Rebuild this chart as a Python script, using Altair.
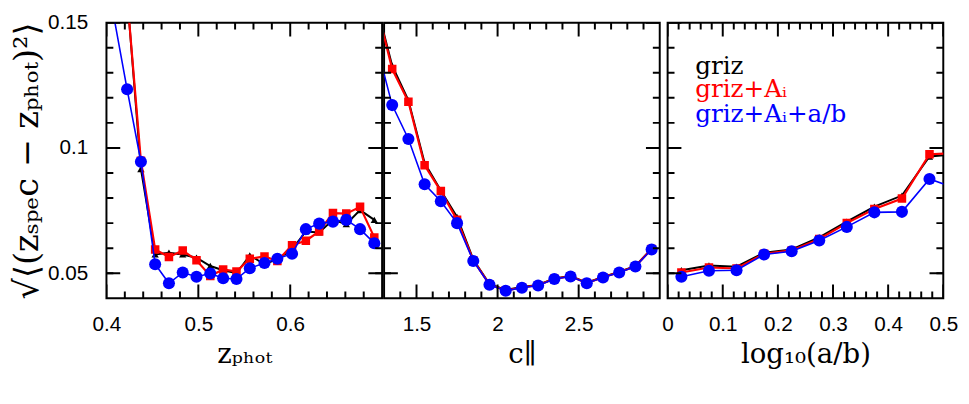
import altair as alt
import pandas as pd

# ---------------- data ----------------
# Panel 1: z_phot
zphot_x = [0.4075, 0.4225, 0.4375, 0.453, 0.468, 0.483, 0.498, 0.513, 0.527, 0.5415,
           0.556, 0.572, 0.586, 0.602, 0.617, 0.6315, 0.6465, 0.661, 0.676, 0.6915]
zphot_griz = [None, 0.161, 0.0916, 0.0575, 0.0582, 0.0575, 0.0562, 0.0529, 0.0512, 0.0500,
              0.0571, 0.0536, 0.0556, 0.0595, 0.0667, 0.0663, 0.0713, 0.0696, 0.0752, 0.0713]
zphot_grizA = [None, 0.1605, 0.0949, 0.0595, 0.0565, 0.0591, 0.0552, 0.0489, 0.0515, 0.0507,
               0.0558, 0.0567, 0.0549, 0.0612, 0.0630, 0.0667, 0.0740, 0.0738, 0.0765, 0.0643]
zphot_grizAab = [0.1535, 0.1234, 0.0945, 0.0536, 0.0460, 0.0503, 0.0486, 0.0499, 0.0480, 0.0477,
                 0.0520, 0.0541, 0.0558, 0.0578, 0.0676, 0.0698, 0.0706, 0.0713, 0.0676, 0.0620]

# Panel 2: c_parallel
c_x = [1.25, 1.35, 1.45, 1.55, 1.65, 1.75, 1.85, 1.95, 2.05, 2.15,
       2.25, 2.35, 2.45, 2.55, 2.65, 2.75, 2.85, 2.95]
c_griz = [0.158, 0.1328, 0.1190, 0.0940, 0.0830, 0.0725, 0.0555, 0.0457, 0.0433, 0.0445,
          0.0453, 0.0479, 0.0489, 0.0462, 0.0485, 0.0505, 0.0529, 0.0598]
c_grizA = [0.1575, 0.1315, 0.1184, 0.0931, 0.0828, 0.0713, 0.0552, 0.0455, 0.0431, 0.0443,
           0.0452, 0.0478, 0.0488, 0.0461, 0.0484, 0.0504, 0.0528, 0.0597]
c_grizAab = [0.142, 0.1171, 0.1036, 0.0855, 0.0787, 0.0700, 0.0549, 0.0454, 0.0430, 0.0442,
             0.0451, 0.0477, 0.0487, 0.0460, 0.0483, 0.0503, 0.0527, 0.0595]

# Panel 3: log10(a/b)
ab_x = [0.025, 0.075, 0.125, 0.175, 0.225, 0.275, 0.325, 0.375, 0.425, 0.475, 0.525]
ab_griz = [0.0512, 0.0531, 0.0526, 0.0582, 0.0595, 0.0643, 0.0706, 0.0766, 0.0810, 0.0966, 0.0975]
ab_grizA = [0.0503, 0.0523, 0.0519, 0.0578, 0.0591, 0.0637, 0.0700, 0.0756, 0.0798, 0.0975, 0.0980]
ab_grizAab = [0.0486, 0.0510, 0.0512, 0.0575, 0.0588, 0.0631, 0.0685, 0.0743, 0.0745, 0.0876, 0.0837]

series_names = ["griz", "griz+Aᵢ", "griz+Aᵢ+a/b"]

# tick positions
y_major = [0.05, 0.1, 0.15]
y_minor = [0.05, 0.06, 0.07, 0.08, 0.09, 0.10, 0.11, 0.12, 0.13, 0.14]
zphot_major = [0.4, 0.5, 0.6]
zphot_minor = [0.42, 0.44, 0.46, 0.48, 0.52, 0.54, 0.56, 0.58, 0.62, 0.64, 0.66, 0.68]
c_major = [1.5, 2.0, 2.5]
c_minor = [1.4, 1.6, 1.7, 1.8, 1.9, 2.1, 2.2, 2.3, 2.4, 2.6, 2.7, 2.8, 2.9]
ab_major = [0.0, 0.1, 0.2, 0.3, 0.4, 0.5]
ab_minor = [0.02, 0.04, 0.06, 0.08, 0.12, 0.14, 0.16, 0.18, 0.22, 0.24, 0.26, 0.28,
            0.32, 0.34, 0.36, 0.38, 0.42, 0.44, 0.46, 0.48]

# ---------------- styling ----------------
STYLES = [
    dict(color="#000000", shape="triangle-up", size=55, lw=2.0),
    dict(color="#ff0000", shape="square", size=75, lw=2.2),
    dict(color="#0000ff", shape="circle", size=150, lw=1.6),
]
Y_DOMAIN = [0.04, 0.15]
W = H = 280
MAJ, MIN = 14, 7
TICK_HALF = 1.0  # half thickness of a tick, px
LABEL_FONT = "Liberation Sans"
TITLE_FONT = "DejaVu Serif"
LABEL_EXPR = "format(datum.value, '.2~f')"


def tick_rects(domain, x_major, x_minor):
    """Inward ticks on all four sides as thin filled rectangles (from the tick lists)."""
    x0, x1 = domain
    y0, y1 = Y_DOMAIN
    xpp = (x1 - x0) / W
    ypp = (y1 - y0) / H
    rows = []
    for tv, size in ((x_major, MAJ), (x_minor, MIN)):
        for t in tv:
            for a, b in ((y0, y0 + size * ypp), (y1 - size * ypp, y1)):
                rows.append({"x": t - TICK_HALF * xpp, "x2": t + TICK_HALF * xpp,
                             "y": a, "y2": b})
    for tv, size in ((y_major, MAJ), (y_minor, MIN)):
        for t in tv:
            for a, b in ((x0, x0 + size * xpp), (x1 - size * xpp, x1)):
                rows.append({"x": a, "x2": b,
                             "y": t - TICK_HALF * ypp, "y2": t + TICK_HALF * ypp})
    return pd.DataFrame(rows)


def panel(xv, vals, domain, x_major, x_minor, x_title, first=False, legend=False):
    xs = alt.Scale(domain=domain, nice=False, zero=False)
    ys = alt.Scale(domain=Y_DOMAIN, nice=False, zero=False)
    x_axis = alt.Axis(values=x_major, ticks=False, domain=False, grid=False,
                      labelExpr=LABEL_EXPR, labelFlush=False, labelFont=LABEL_FONT,
                      labelFontSize=21, labelColor="black", labelPadding=16,
                      title=x_title, titleFont=TITLE_FONT, titleFontSize=28,
                      titleFontWeight="normal", titleColor="black", titlePadding=6)
    if first:
        y_axis = alt.Axis(values=y_major, ticks=False, domain=False, grid=False,
                          labelExpr=LABEL_EXPR, labelFlush=False, labelFont=LABEL_FONT,
                          labelFontSize=21, labelColor="black", labelPadding=19,
                          title="√⟨(zₛₚₑc − zₚₕₒₜ)²⟩", titleFont=TITLE_FONT,
                          titleFontSize=34, titleFontWeight="normal", titleColor="black",
                          titlePadding=3)
    else:
        y_axis = None

    def X(f):
        return alt.X(f, scale=xs, axis=x_axis)

    def Y(f):
        return alt.Y(f, scale=ys, axis=y_axis)

    layers = []
    # data series
    for st, v in zip(STYLES, vals):
        df = pd.DataFrame({"x": xv, "y": v})
        base = alt.Chart(df)
        layers.append(base.mark_line(color=st["color"], strokeWidth=st["lw"], clip=True).encode(
            x=X("x:Q"), y=Y("y:Q")))
        layers.append(base.mark_point(color=st["color"], shape=st["shape"], size=st["size"],
                                      filled=True, opacity=1, clip=True).encode(
            x=X("x:Q"), y=Y("y:Q")))
    # inward ticks as filled thin rectangles
    layers.append(alt.Chart(tick_rects(domain, x_major, x_minor)).mark_rect(
        color="#000000", opacity=1, clip=True).encode(
        x=X("x:Q"), x2="x2:Q", y=Y("y:Q"), y2="y2:Q"))
    if legend:
        ypos = [52, 76, 101]
        for name, st, yp in zip(series_names, STYLES, ypos):
            layers.append(alt.Chart(pd.DataFrame({"t": [name]})).mark_text(
                align="left", baseline="alphabetic", font=TITLE_FONT, fontSize=25,
                color=st["color"]).encode(text="t:N", x=alt.value(28), y=alt.value(yp)))
    return alt.layer(*layers).properties(width=W, height=H)


p1 = panel(zphot_x, [zphot_griz, zphot_grizA, zphot_grizAab], [0.4, 0.7],
           zphot_major, zphot_minor, "zₚₕₒₜ", first=True)
p2 = panel(c_x, [c_griz, c_grizA, c_grizAab], [1.3, 3.0],
           c_major, c_minor, "c∥")
p3 = panel(ab_x, [ab_griz, ab_grizA, ab_grizAab], [0.0, 0.5],
           ab_major, ab_minor, "log₁₀(a/b)", legend=True)

chart = alt.hconcat(p1, p2, p3, spacing=0).properties(
    padding={"left": 2, "top": 0, "right": 2, "bottom": 2}
).configure_view(stroke="black", strokeWidth=2)

chart.save("out.html", embed_options={"renderer": "svg", "actions": False})
